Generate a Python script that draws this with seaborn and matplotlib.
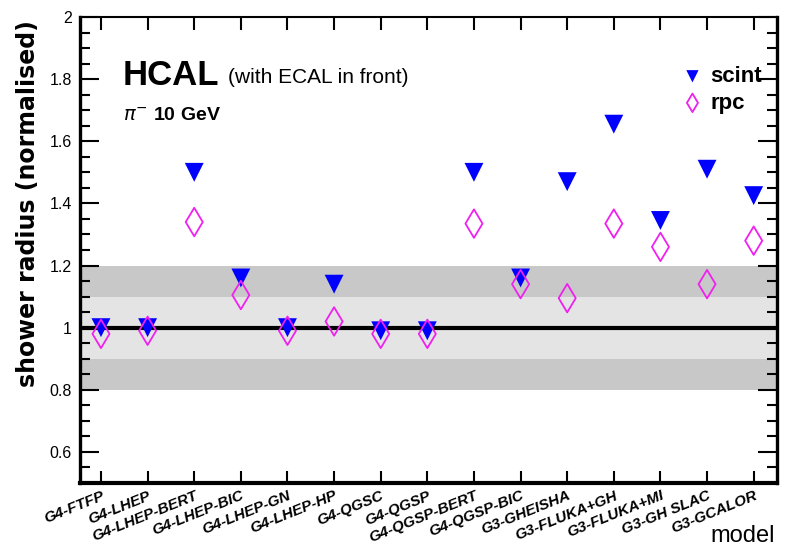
import matplotlib
matplotlib.use("Agg")
import matplotlib.pyplot as plt
from matplotlib import font_manager
from matplotlib.ticker import MultipleLocator, FuncFormatter
import seaborn as sns
import pandas as pd

models = ["G4-FTFP", "G4-LHEP", "G4-LHEP-BERT", "G4-LHEP-BIC", "G4-LHEP-GN",
          "G4-LHEP-HP", "G4-QGSC", "G4-QGSP", "G4-QGSP-BERT", "G4-QGSP-BIC",
          "G3-GHEISHA", "G3-FLUKA+GH", "G3-FLUKA+MI", "G3-GH SLAC", "G3-GCALOR"]
scint = [1.00, 1.00, 1.50, 1.16, 1.00, 1.14, 0.99, 0.99, 1.50, 1.16,
         1.47, 1.655, 1.345, 1.51, 1.425]
rpc = [0.98, 0.99, 1.34, 1.105, 0.99, 1.02, 0.98, 0.98, 1.335, 1.14,
       1.095, 1.335, 1.26, 1.14, 1.28]

df = pd.DataFrame({"model": models, "scint": scint, "rpc": rpc})

sns.set_style("ticks")
names = {f.name for f in font_manager.fontManager.ttflist}
SANS = "Liberation Sans Narrow" if "Liberation Sans Narrow" in names else "Liberation Sans"
plt.rcParams["font.family"] = [SANS, "DejaVu Sans"]
for k in ("text.color", "axes.labelcolor", "xtick.color", "ytick.color", "axes.edgecolor"):
    plt.rcParams[k] = "black"

W, H = 788, 548
fig, ax = plt.subplots(figsize=(W / 100, H / 100), dpi=100)
fig.subplots_adjust(left=80 / W, right=777 / W, bottom=1 - 483 / H, top=1 - 17 / H)

ax.axhspan(0.8, 1.2, color="#c8c8c8", lw=0, zorder=0)
ax.axhspan(0.9, 1.1, color="#e4e4e4", lw=0, zorder=0.5)
ax.axhline(1.0, color="black", lw=3, zorder=1)

sns.scatterplot(data=df, x="model", y="scint", marker="v", s=185, color="#0000ff",
                edgecolor="none", label="scint", ax=ax, zorder=3)
sns.scatterplot(data=df, x="model", y="rpc", marker="d", s=210, color="#f020f0",
                facecolor="none", edgecolor="#f020f0", linewidth=1.3,
                label="rpc", ax=ax, zorder=4)

ax.set_xlim(-0.45, 14.5)
ax.set_ylim(0.5, 2.0)
ax.yaxis.set_major_locator(MultipleLocator(0.2))
ax.yaxis.set_minor_locator(MultipleLocator(0.05))
ax.yaxis.set_major_formatter(FuncFormatter(lambda v, p: f"{v:g}"))

ax.set_xticks(range(len(models)))
ax.set_xticklabels(models, rotation=22, ha="right", rotation_mode="anchor",
                   fontsize=11, fontweight="bold", fontstyle="italic",
                   family=["Liberation Sans", "DejaVu Sans"])
ax.tick_params(axis="x", which="major", direction="in", length=9, width=1.5,
               top=True, bottom=True, pad=4)
ax.tick_params(axis="y", which="major", direction="in", length=14, width=1.5,
               left=True, right=True, labelsize=11.5, pad=6)
ax.tick_params(axis="y", which="minor", direction="in", length=7, width=1.5,
               left=True, right=True)

for side, lw in {"left": 2.4, "bottom": 3.0, "right": 2.4, "top": 1.5}.items():
    ax.spines[side].set_linewidth(lw)
    ax.spines[side].set_color("black")
    ax.spines[side].set_zorder(6)

ax.set_xlabel("")
ax.set_ylabel("shower radius (normalised)", fontsize=17, fontweight="bold",
              family=["DejaVu Sans"])
ax.yaxis.set_label_coords(-0.058, 0.60)

fig.text(775 / W, 1 - 542 / H, "model", ha="right", va="baseline", fontsize=17)

fig.text(123 / W, 1 - 85 / H, "HCAL", ha="left", va="baseline", fontsize=25,
         fontweight="bold")
fig.text(228 / W, 1 - 83 / H, "(with ECAL in front)", ha="left", va="baseline",
         fontsize=15)
fig.text(123 / W, 1 - 120 / H, r"$\pi^{-}$ 10 GeV", ha="left", va="baseline",
         fontsize=14, fontweight="bold")

leg = ax.legend(loc="upper left", bbox_to_anchor=(668 / W, 1 - 55 / H),
                bbox_transform=fig.transFigure, frameon=False,
                prop={"family": SANS, "weight": "bold", "size": 16},
                handletextpad=0.2, labelspacing=0.25, borderpad=0,
                handlelength=1.2, markerscale=0.65)

fig.savefig("out.png", dpi=100)
